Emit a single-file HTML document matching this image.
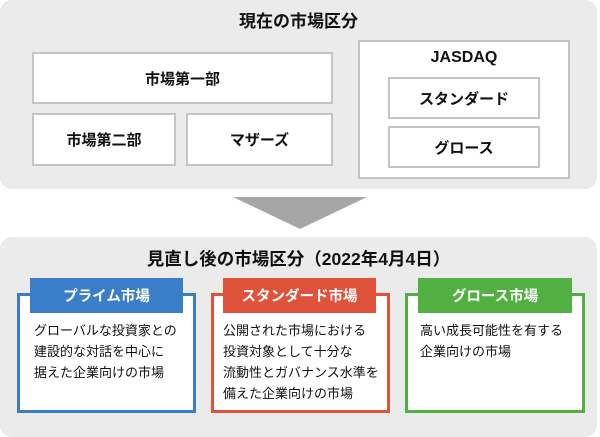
<!DOCTYPE html><html><head><meta charset="utf-8"><style>
*{margin:0;padding:0;box-sizing:border-box}
body{width:600px;height:425px;background:#fff;position:relative;overflow:hidden;font-family:"Liberation Sans","Noto Sans CJK JP",sans-serif;color:#111}
.a{position:absolute}
.panel{background:#ebebeb;border-radius:12px}
.box{background:#fff;border:2px solid #c4c4c4;display:flex;align-items:center;justify-content:center;font-weight:bold;font-size:15px}
.t{font-weight:bold;font-size:17px;text-align:center}
.card{background:#fff;border:3px solid}
.tab{color:#fff;font-weight:bold;font-size:14.5px;display:flex;align-items:center;justify-content:center}
.txt{font-size:13px;line-height:21px}
</style></head><body>
<div class="a panel" style="left:0;top:0;width:597px;height:189px"></div>
<div class="a t" style="left:0;top:7px;width:597px">現在の市場区分</div>
<div class="a box" style="left:32px;top:52px;width:301px;height:52px">市場第一部</div>
<div class="a box" style="left:32px;top:113px;width:144px;height:53px">市場第二部</div>
<div class="a box" style="left:186px;top:113px;width:147px;height:53px">マザーズ</div>
<div class="a" style="left:358px;top:40px;width:212px;height:139px;background:#fff;border:2px solid #c4c4c4"></div>
<div class="a t" style="left:358px;top:49px;width:212px;font-size:16px">JASDAQ</div>
<div class="a box" style="left:388px;top:77px;width:152px;height:42px">スタンダード</div>
<div class="a box" style="left:388px;top:126px;width:152px;height:42px">グロース</div>
<svg class="a" style="left:0;top:0" width="600" height="240"><polygon points="233,197 367,197 300,229" fill="#a6a6a6"/></svg>
<div class="a panel" style="left:0;top:237px;width:597px;height:200px"></div>
<div class="a t" style="left:0;top:246px;width:597px;font-size:17.5px">見直し後の市場区分（2022年4月4日）</div>
<div class="a card" style="left:17px;top:293px;width:179px;height:120px;border-color:#3a7dc9"></div>
<div class="a tab" style="left:30px;top:278px;width:153px;height:35px;background:#3a7dc9">プライム市場</div>
<div class="a txt" style="left:34px;top:320px">グローバルな投資家との<br>建設的な対話を中心に<br>据えた企業向けの市場</div>
<div class="a card" style="left:211px;top:293px;width:179px;height:120px;border-color:#e0533a"></div>
<div class="a tab" style="left:223px;top:278px;width:153px;height:35px;background:#e0533a">スタンダード市場</div>
<div class="a txt" style="left:223px;top:320px">公開された市場における<br>投資対象として十分な<br>流動性とガバナンス水準を<br>備えた企業向けの市場</div>
<div class="a card" style="left:405px;top:293px;width:180px;height:120px;border-color:#52b043"></div>
<div class="a tab" style="left:418px;top:278px;width:154px;height:35px;background:#52b043">グロース市場</div>
<div class="a txt" style="left:420px;top:320px">高い成長可能性を有する<br>企業向けの市場</div>
</body></html>
